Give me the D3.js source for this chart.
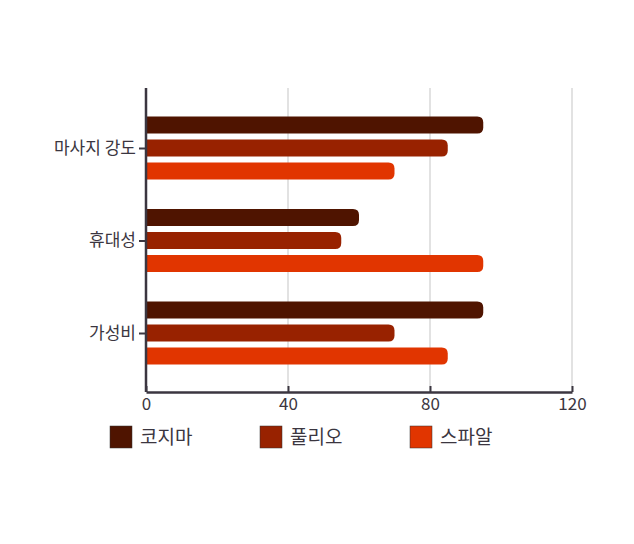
<!DOCTYPE html>
<html><head><meta charset="utf-8">
<script src="https://cdn.jsdelivr.net/npm/d3@7"></script>
<style>body{margin:0;background:#fff;font-family:"Noto Sans CJK KR","Noto Sans",sans-serif}</style>
</head><body><svg width="634" height="544"></svg>
<script>
const categories = ['마사지 강도', '휴대성', '가성비'];
const seriesNames = ['코지마', '풀리오', '스파알'];
const cozima = [95, 60, 95];
const fulio = [85, 55, 70];
const spaal = [70, 95, 85];
const xTicks = [0, 40, 80, 120];
const colors = ['#4f1400', '#982200', '#e13500'];

const values = [cozima, fulio, spaal];
const svg = d3.select('svg');
const m = {left: 146, right: 572, top: 88, bottom: 392};
const x = d3.scaleLinear().domain([0, 120]).range([m.left, m.right]);
const y = d3.scalePoint().domain(categories).range([148, 333]);
const barH = 17, step = 23;

svg.selectAll('.grid').data(xTicks.slice(1)).enter().append('line')
  .attr('x1', d => x(d)).attr('x2', d => x(d)).attr('y1', m.top).attr('y2', m.bottom)
  .attr('stroke', '#d9d9d9').attr('stroke-width', 1.5);

const r = 6;
categories.forEach((c, ci) => {
  seriesNames.forEach((s, si) => {
    const x0 = x(0), x1 = x(values[si][ci]);
    const y0 = y(c) + (si - 1) * step - barH / 2, h = barH;
    svg.append('path')
      .attr('d', `M${x0},${y0}H${x1 - r}Q${x1},${y0} ${x1},${y0 + r}V${y0 + h - r}Q${x1},${y0 + h} ${x1 - r},${y0 + h}H${x0}Z`)
      .attr('fill', colors[si]);
  });
});

const axisColor = '#3b3640';
const gx = svg.append('g').attr('transform', `translate(0,${m.bottom})`)
  .call(d3.axisBottom(x).tickValues(xTicks).tickSize(6).tickSizeOuter(0));
const gy = svg.append('g').attr('transform', `translate(${m.left},0)`)
  .call(d3.axisLeft(y).tickSize(7).tickSizeOuter(0));
gy.select('.domain').attr('d', `M0,${m.top}V${m.bottom}`);
[gx, gy].forEach(g => {
  g.attr('font-size', null).attr('font-family', null);
  g.select('.domain').attr('stroke', axisColor).attr('stroke-width', 2.5);
  g.selectAll('.tick line').attr('stroke', axisColor).attr('stroke-width', 2);
  g.selectAll('text').attr('fill', '#3b3640').attr('font-size', 17);
});
gx.selectAll('.tick line').attr('y1', -6).attr('y2', 0);
gx.selectAll('text').attr('dy', '0.5em');

const lg = svg.selectAll('.lg').data(seriesNames).enter().append('g')
  .attr('transform', (d, i) => `translate(${110 + i * 150},426)`);
lg.append('rect').attr('width', 22).attr('height', 22).attr('fill', (d, i) => colors[i])
  .attr('stroke', '#333').attr('stroke-width', 0.5);
lg.append('text').attr('x', 30).attr('y', 11).attr('dy', '0.35em').text(d => d)
  .attr('fill', '#3b3640').attr('font-size', 19);
</script></body></html>
